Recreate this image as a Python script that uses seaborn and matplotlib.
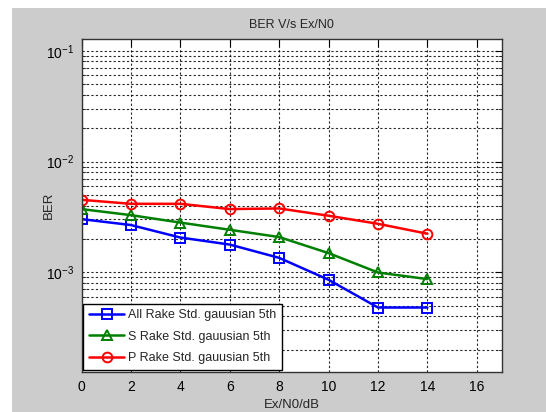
import numpy as np
import pandas as pd
import matplotlib
matplotlib.use("Agg")
import matplotlib.pyplot as plt
import seaborn as sns
from matplotlib.patches import Rectangle
from matplotlib.ticker import LogLocator, FixedLocator, NullFormatter, FuncFormatter

# ---- data ----
ebn0 = [0, 2, 4, 6, 8, 10, 12, 14]
ber_all = [3.02e-3, 2.67e-3, 2.06e-3, 1.78e-3, 1.35e-3, 8.56e-4, 4.81e-4, 4.81e-4]
ber_s = [3.72e-3, 3.28e-3, 2.81e-3, 2.42e-3, 2.08e-3, 1.49e-3, 9.96e-4, 8.68e-4]
ber_p = [4.51e-3, 4.15e-3, 4.15e-3, 3.72e-3, 3.77e-3, 3.24e-3, 2.74e-3, 2.23e-3]
labels = ["All Rake Std. gauusian 5th", "S Rake Std. gauusian 5th", "P Rake Std. gauusian 5th"]
x_ticks = [0, 2, 4, 6, 8, 10, 12, 14, 16]
title = "BER V/s Ex/N0"
xlabel = "Ex/N0/dB"
ylabel = "BER"

sns.set_theme(style="white")
FONT = ['Liberation Sans', 'DejaVu Sans']
plt.rcParams['font.family'] = FONT
plt.rcParams['mathtext.fontset'] = 'custom'
plt.rcParams['mathtext.rm'] = 'Liberation Sans'
plt.rcParams['mathtext.it'] = 'Liberation Sans'
plt.rcParams['mathtext.default'] = 'regular'

W, H = 546, 412
fig = plt.figure(figsize=(W / 100, H / 100), dpi=100, facecolor="white")
fig.patches.append(Rectangle((12 / W, 0), 1 - 12 / W, (H - 8) / H,
                             transform=fig.transFigure, facecolor="#cccccc",
                             edgecolor="none", zorder=-10))

left, right, top, bottom = 81.5, 501.5, 39, 371.5
ax = fig.add_axes([left / W, (H - bottom) / H, (right - left) / W, (bottom - top) / H])
ax.set_facecolor("white")

series = [(ber_all, "#0000ff", "s", 6.5), (ber_s, "#008000", "^", 7), (ber_p, "#ff0000", "o", 7)]
for (vals, col, mk, ms), lab in zip(series, labels):
    df = pd.DataFrame({"x": ebn0, "y": vals})
    sns.lineplot(data=df, x="x", y="y", ax=ax, color=col, lw=1.8, marker=mk,
                 markersize=ms, markerfacecolor="none", markeredgecolor=col,
                 markeredgewidth=1.4, label=lab)

ax.set_yscale("log")
ax.set_xlim(0, 17)
ax.set_ylim(10 ** (-3 - 99.2 / 110.8), 10 ** (-1 + 11.7 / 110.8))

ax.xaxis.set_major_locator(FixedLocator(x_ticks))
ax.yaxis.set_major_locator(FixedLocator([1e-3, 1e-2, 1e-1]))
ax.yaxis.set_minor_locator(LogLocator(base=10, subs=np.arange(2, 10), numticks=20))
ax.yaxis.set_minor_formatter(NullFormatter())
ax.yaxis.set_major_formatter(FuncFormatter(lambda v, p: r"$10^{%d}$" % int(round(np.log10(v)))))

grid_kw = dict(color="black", linestyle=(0, (2, 2)), linewidth=0.8, alpha=0.85)
ax.grid(True, which="major", axis="both", **grid_kw)
ax.grid(True, which="minor", axis="y", **grid_kw)
ax.set_axisbelow(True)

ax.tick_params(which="major", direction="in", length=5, width=0.8, top=True, right=True,
               labelsize=10, pad=6, colors="black")
ax.tick_params(which="minor", direction="in", length=3, width=0.6, top=False, right=True,
               left=True)
ax.tick_params(axis="y", which="major", pad=5)
for lab in ax.get_xticklabels() + ax.get_yticklabels():
    lab.set_family(FONT)
for sp in ax.spines.values():
    sp.set_color("#333333")
    sp.set_linewidth(1.0)

ax.set_title(title, fontsize=9, pad=8, family=FONT)
ax.set_xlabel(xlabel, fontsize=9.5, labelpad=4, family=FONT)
ax.set_ylabel(ylabel, fontsize=9.5, family=FONT)
ax.yaxis.set_label_coords((55 - left) / (right - left), 0.5)

leg = ax.legend(loc="lower left", bbox_to_anchor=(0.0, 0.0), fontsize=9, frameon=True,
                fancybox=False, framealpha=1, edgecolor="black", handlelength=2.8,
                borderpad=0.45, labelspacing=0.75, handletextpad=0.3, borderaxespad=0.15)
leg.get_frame().set_linewidth(1.0)
for t in leg.get_texts():
    t.set_family(FONT)

fig.savefig("out.png", dpi=100, facecolor=fig.get_facecolor())
